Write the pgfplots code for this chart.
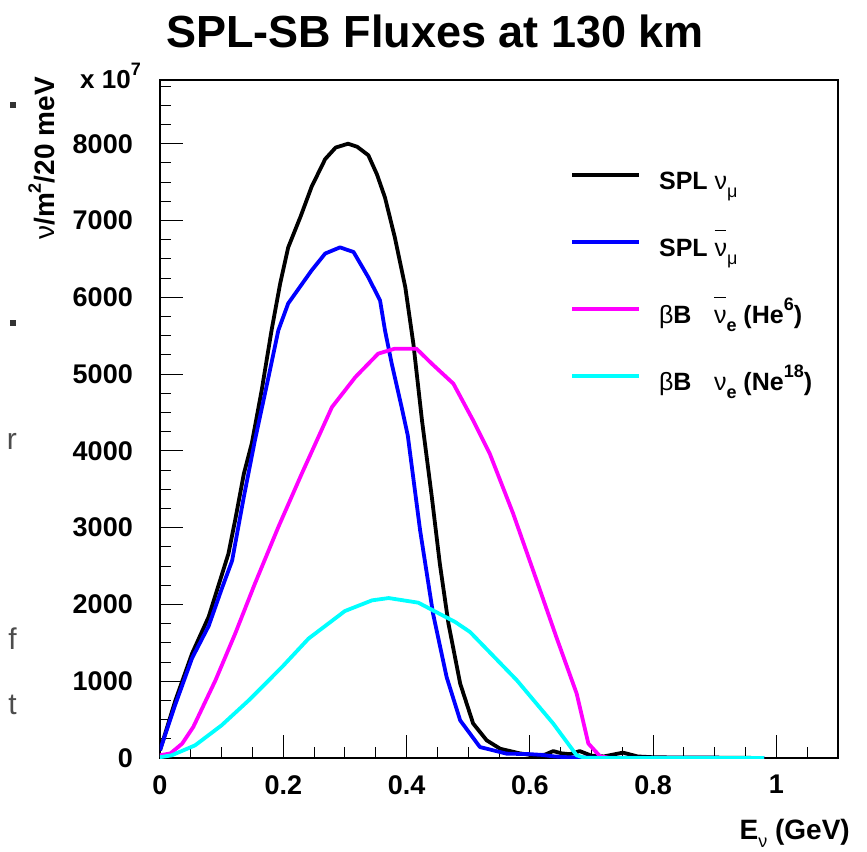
\documentclass[border=0pt]{standalone}
\usepackage{fontspec}
\setmainfont{Liberation Sans}
\usepackage{pgfplots}
\pgfplotsset{compat=1.18}
\definecolor{rblue}{RGB}{0,0,255}
\definecolor{rmag}{RGB}{255,0,255}
\definecolor{rcyan}{RGB}{0,255,255}
\newcommand{\lo}[1]{\raisebox{-0.32em}{\fontsize{18}{18}\selectfont #1}}
\newcommand{\hi}[1]{\raisebox{0.5em}{\fontsize{18}{18}\selectfont #1}}
\newcommand{\nuG}{{\mdseries ν}}
\newcommand{\barnu}{\leavevmode\rlap{\raisebox{1.0em}{\rule{0.47em}{1.5pt}}}{\mdseries ν}}
\begin{document}
\begin{tikzpicture}
\useasboundingbox (-160pt,-93pt) rectangle (707pt,758pt);
\begin{axis}[
  at={(0pt,0pt)}, anchor=origin,
  scale only axis, width=678pt, height=678pt,
  xmin=0, xmax=1.1, ymin=0, ymax=8830,
  xtick={0,0.2,0.4,0.6,0.8,1},
  minor xtick={0.05,0.1,0.15,0.25,0.3,0.35,0.45,0.5,0.55,0.65,0.7,0.75,0.85,0.9,0.95,1.05},
  ytick={0,1000,2000,3000,4000,5000,6000,7000,8000},
  minor ytick={250,500,750,1250,1500,1750,2250,2500,2750,3250,3500,3750,4250,4500,4750,5250,5500,5750,6250,6500,6750,7250,7500,7750,8250,8500,8750},
  xticklabels={0,0.2,0.4,0.6,0.8,1},
  scaled y ticks=false,
  tick align=inside, tick pos=left,
  major tick length=23pt, minor tick length=11.5pt,
  every tick/.style={line width=1pt, black},
  axis line style={line width=1.5pt},
  /pgf/number format/assume math mode=true,
  /pgf/number format/1000 sep={},
  tick label style={font=\fontsize{27}{30}\selectfont\bfseries},
  yticklabel style={inner xsep=0pt, xshift=-27pt},
  xticklabel style={inner ysep=0pt, yshift=-17pt},
  legend style={at={(axis description cs:0.6003,0.87)}, anchor=north west, draw=none, fill=none,
    font=\fontsize{25}{28}\selectfont\bfseries, row sep=39pt,
    nodes={inner sep=0pt, text height=19pt, text depth=9pt}},
  legend cell align=left,
  legend image code/.code={\draw[#1, line width=4pt] (0pt,9pt) -- (67pt,9pt); \path (85pt,0pt);},
  every axis plot/.append style={line width=3.8pt, line join=round},
]
\addplot[black] coordinates {(0,100) (0.025,750) (0.052,1360) (0.079,1840) (0.111,2660) (0.122,3100) (0.136,3700) (0.149,4100) (0.165,4790) (0.181,5570) (0.195,6180) (0.208,6650) (0.228,7050) (0.246,7440) (0.268,7800) (0.285,7950) (0.305,8000) (0.32,7960) (0.338,7850) (0.352,7600) (0.365,7300) (0.381,6780) (0.398,6130) (0.411,5400) (0.425,4400) (0.441,3400) (0.454,2530) (0.468,1750) (0.487,970) (0.508,450) (0.53,230) (0.552,120) (0.584,60) (0.61,30) (0.625,45) (0.638,90) (0.652,60) (0.665,50) (0.681,90) (0.70,30) (0.72,20) (0.751,70) (0.775,20) (0.8,10) (0.85,5) (0.9,5) (0.98,0)};
\addlegendentry{SPL \nuG\lo{\mdseries μ}}
\addplot[rblue] coordinates {(0,100) (0.025,700) (0.052,1300) (0.079,1720) (0.1,2200) (0.117,2570) (0.136,3400) (0.154,4137) (0.176,4960) (0.192,5570) (0.208,5920) (0.246,6350) (0.268,6570) (0.292,6650) (0.314,6590) (0.338,6260) (0.357,5960) (0.365,5570) (0.376,5135) (0.392,4570) (0.402,4200) (0.422,2965) (0.443,1880) (0.465,1055) (0.487,490) (0.519,143) (0.562,57) (0.6,50) (0.62,40) (0.64,20) (0.66,10) (0.7,5) (0.98,0)};
\addlegendentry{SPL \barnu\lo{\mdseries μ}}
\addplot[rmag] coordinates {(0,35) (0.017,60) (0.036,187) (0.054,404) (0.090,1012) (0.122,1620) (0.154,2271) (0.192,3008) (0.230,3703) (0.279,4570) (0.317,4961) (0.354,5266) (0.381,5331) (0.416,5331) (0.441,5135) (0.476,4875) (0.508,4397) (0.535,3964) (0.573,3182) (0.611,2314) (0.643,1576) (0.676,839) (0.695,188) (0.714,22) (0.73,0) (0.98,0)};
\addlegendentry{{\mdseries β}B\hspace{0.9em}\barnu\lo{e} (He\hi{6})}
\addplot[rcyan] coordinates {(0,10) (0.019,35) (0.057,165) (0.100,426) (0.144,751) (0.198,1185) (0.241,1555) (0.300,1914) (0.344,2053) (0.371,2083) (0.419,2023) (0.479,1771) (0.503,1641) (0.579,1012) (0.638,448) (0.676,35) (0.69,0) (0.98,0)};
\addlegendentry{{\mdseries β}B\hspace{0.9em}\nuG\lo{e} (Ne\hi{18})}
\end{axis}
\node[anchor=base, font=\fontsize{45}{50}\selectfont\bfseries] at (275pt,710pt) {SPL-SB Fluxes at 130 km};
\node[anchor=base west, inner sep=0pt, font=\fontsize{26}{30}\selectfont\bfseries] at (-80pt,669pt) {x 10\hi{7}};
\node[anchor=base east, inner sep=0pt, rotate=90, font=\fontsize{28}{30}\selectfont\bfseries] at (-105pt,681pt) {\nuG/m\hi{2}/20 meV};
\node[anchor=base east, inner sep=0pt, font=\fontsize{28}{30}\selectfont\bfseries] at (690pt,-81pt) {E\lo{\nuG} (GeV)};
\begin{scope}[font=\fontsize{30}{32}\selectfont, text=black!70]
\node[anchor=base east, inner sep=0pt] at (-143pt,308pt) {r};
\node[anchor=base east, inner sep=0pt] at (-143pt,108pt) {f};
\node[anchor=base east, inner sep=0pt] at (-143pt,43pt) {t};
\end{scope}
\fill[black!80] (-150pt,650pt) rectangle (-144pt,656pt);
\fill[black!80] (-150pt,432pt) rectangle (-144pt,438pt);
\end{tikzpicture}
\end{document}
